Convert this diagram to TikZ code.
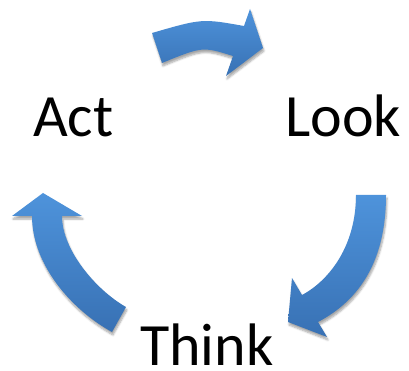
\documentclass[tikz,border=0pt]{standalone}
\usepackage{fontspec}
\setmainfont{Carlito}
\usepackage{tikz}
\usetikzlibrary{shadows.blur}
\definecolor{arrowtop}{RGB}{78,147,219}
\definecolor{arrowbot}{RGB}{56,113,180}
\tikzset{cyclearrow/.style={top color=arrowtop, bottom color=arrowbot, draw=none,
    blur shadow={shadow xshift=1pt, shadow yshift=-3pt, shadow blur steps=6, shadow opacity=35}}}
\tikzset{word/.style={anchor=base west, inner sep=0pt, text depth=0pt, font=\fontsize{60}{62}\selectfont}}

\begin{document}
\begin{tikzpicture}[x=1pt,y=-1pt]
    \useasboundingbox (0,0) rectangle (409,371);
    % top arrow
    \path[cyclearrow] (152,33) .. controls (202,18.5) .. (244,26) -- (250,9) -- (263,48)
        -- (226,76) -- (233,56) .. controls (202.5,46.5) .. (162,63) -- cycle;
    % right arrow
    \path[cyclearrow] (356,195) -- (386,195) .. controls (386,260) and (360,300) .. (318,322)
        -- (327,337) -- (288,322) -- (292,278) -- (302,295)
        .. controls (330,280) and (356,245) .. (356,195) -- cycle;
    % left arrow
    \path[cyclearrow] (32,216) .. controls (32,265) and (72,310) .. (112,332) -- (126,307)
        .. controls (96,290) and (62,250) .. (62,216) -- (82,216) -- (43,193) -- (12,216) -- cycle;
    \node[word] (act) at (33,137) {Act};
    \node[word] (look) at (285,137) {Look};
    \node[word] (think) at (140,365) {Think};
\end{tikzpicture}
\end{document}
